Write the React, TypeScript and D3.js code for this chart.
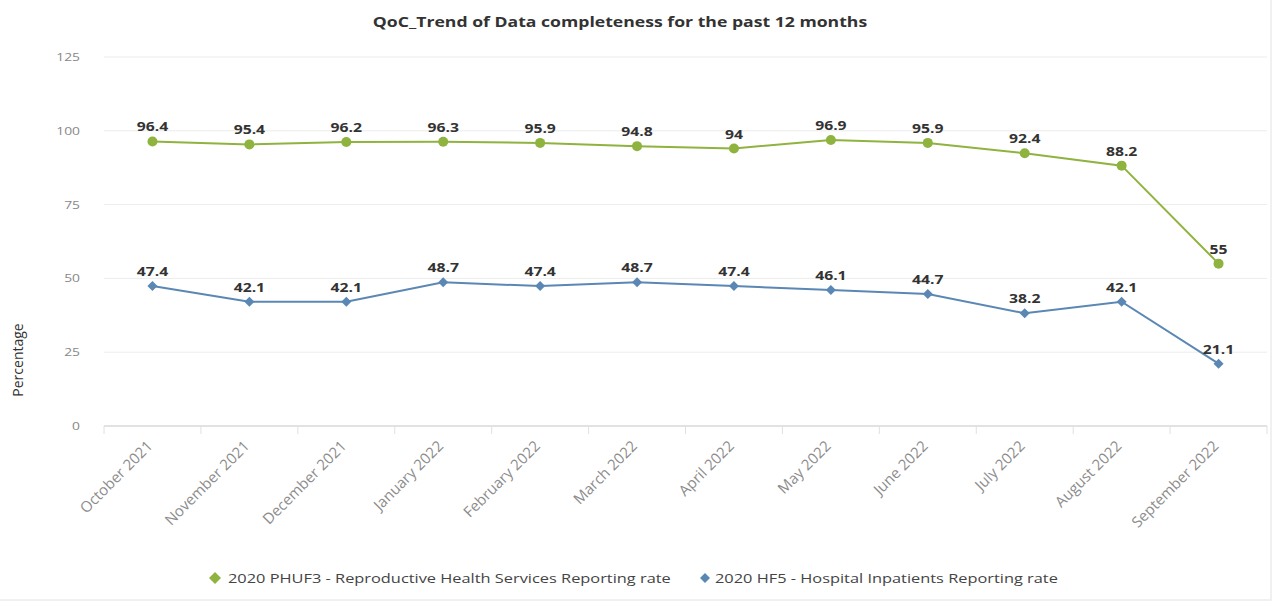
import React from "react";
import * as d3 from "d3";

const months = [
  "October 2021", "November 2021", "December 2021", "January 2022",
  "February 2022", "March 2022", "April 2022", "May 2022",
  "June 2022", "July 2022", "August 2022", "September 2022",
];
const reproductiveRate = [96.4, 95.4, 96.2, 96.3, 95.9, 94.8, 94, 96.9, 95.9, 92.4, 88.2, 55];
const inpatientRate = [47.4, 42.1, 42.1, 48.7, 47.4, 48.7, 47.4, 46.1, 44.7, 38.2, 42.1, 21.1];
const yTicks = [0, 25, 50, 75, 100, 125];

const seriesNames = [
  "2020 PHUF3 - Reproductive Health Services Reporting rate",
  "2020 HF5 - Hospital Inpatients Reporting rate",
];

const W = 1281;
const H = 606;
const left = 104;
const right = 1267;
const top = 57;
const bottom = 426;

const GREEN = "#8fb33f";
const BLUE = "#5a87b4";
const FONT = "'Open Sans', 'Noto Sans', sans-serif";
const SX = 1.26; // horizontal widening of the label glyphs

type TProps = {
  x: number;
  y: number;
  anchor?: "start" | "middle" | "end";
  size: number;
  weight?: number;
  fill: string;
  children: React.ReactNode;
};

function WideText({ x, y, anchor = "start", size, weight = 400, fill, children }: TProps) {
  return (
    <text
      transform={`translate(${x},${y}) scale(${SX},1)`}
      textAnchor={anchor}
      fontSize={size}
      fontWeight={weight}
      fill={fill}
    >
      {children}
    </text>
  );
}

export default function App() {
  const x = d3.scaleBand<string>().domain(months).range([left, right]);
  const y = d3.scaleLinear().domain([0, 125]).range([bottom, top]);
  const cx = (m: string) => (x(m) ?? 0) + x.bandwidth() / 2;

  const line = d3
    .line<number>()
    .x((_, i) => cx(months[i]))
    .y((v) => y(v));

  const diamond = (px: number, py: number, r: number) =>
    `M${px},${py - r}L${px + r},${py}L${px},${py + r}L${px - r},${py}Z`;

  return (
    <svg width={W} height={H} style={{ position: "absolute", left: 0, top: 0, background: "#fff" }} fontFamily={FONT}>
      <rect x={0} y={0} width={W} height={H} fill="#fff" />
      <rect x={-1} y={-1} width={1272} height={601} fill="none" stroke="#ececec" strokeWidth={1.5} />

      <WideText x={620} y={27} anchor="middle" size={14} weight={700} fill="#333">
        QoC_Trend of Data completeness for the past 12 months
      </WideText>

      {/* horizontal grid */}
      {yTicks.map((t) => (
        <g key={t}>
          <line x1={left} x2={right} y1={y(t)} y2={y(t)} stroke={t === 0 ? "#d8d8d8" : "#ececec"} strokeWidth={t === 0 ? 1.5 : 1} />
          <WideText x={80} y={y(t) + 4} anchor="end" size={11} fill="#888">
            {t}
          </WideText>
        </g>
      ))}

      {/* category ticks */}
      {months.map((m) => (
        <line key={m} x1={x(m) ?? 0} x2={x(m) ?? 0} y1={bottom} y2={bottom + 8} stroke="#e0e0e0" />
      ))}
      <line x1={right} x2={right} y1={bottom} y2={bottom + 8} stroke="#e0e0e0" />

      {/* x labels */}
      {months.map((m) => (
        <text
          key={m}
          transform={`translate(${cx(m) + 1},${bottom + 21}) rotate(-45)`}
          textAnchor="end"
          fontSize={15}
          fill="#8c8c8c"
        >
          {m}
        </text>
      ))}

      <text transform={`translate(23,360) rotate(-90)`} textAnchor="middle" fontSize={14} fill="#333">
        Percentage
      </text>

      {/* series lines */}
      <path d={line(reproductiveRate) ?? ""} fill="none" stroke={GREEN} strokeWidth={2} />
      <path d={line(inpatientRate) ?? ""} fill="none" stroke={BLUE} strokeWidth={2} />

      {reproductiveRate.map((v, i) => (
        <g key={"g" + i}>
          <circle cx={cx(months[i])} cy={y(v)} r={5} fill={GREEN} />
          <WideText x={cx(months[i])} y={y(v) - 10} anchor="middle" size={12.5} weight={700} fill="#333">
            {v}
          </WideText>
        </g>
      ))}
      {inpatientRate.map((v, i) => (
        <g key={"b" + i}>
          <path d={diamond(cx(months[i]), y(v), 5)} fill={BLUE} />
          <WideText x={cx(months[i])} y={y(v) - 10} anchor="middle" size={12.5} weight={700} fill="#333">
            {v}
          </WideText>
        </g>
      ))}

      {/* legend */}
      <path d={diamond(215, 578, 6)} fill={GREEN} />
      <WideText x={228} y={583} size={13} fill="#444">
        {seriesNames[0]}
      </WideText>
      <path d={diamond(705, 578, 5)} fill={BLUE} />
      <WideText x={715} y={583} size={13} fill="#444">
        {seriesNames[1]}
      </WideText>
    </svg>
  );
}
